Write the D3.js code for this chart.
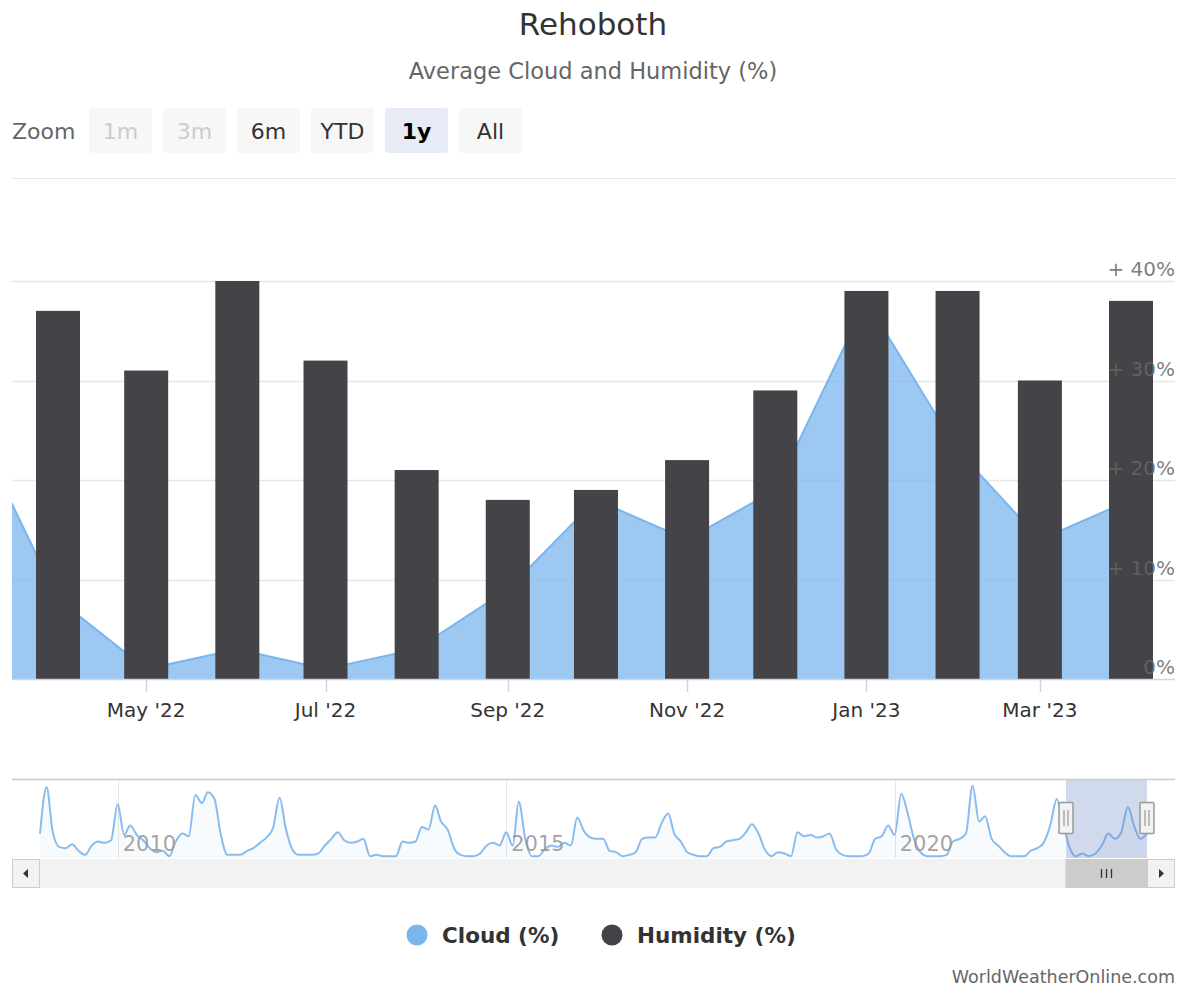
<!DOCTYPE html>
<html>
<head>
<meta charset="utf-8">
<script src="https://cdn.jsdelivr.net/npm/d3@7"></script>
<style>
  body { margin: 0; background: #fff; font-family: "DejaVu Sans", sans-serif; }
</style>
</head>
<body>
<svg id="chart" width="1184" height="987"></svg>
<script>
// ---- data ----
const title = 'Rehoboth';
const subtitle = 'Average Cloud and Humidity (%)';

// monthly cloud cover, Jan 2009 .. Apr 2023
const cloudStart = new Date(Date.UTC(2009, 0, 1));
const cloud = [
  18, 53, 20, 8, 7, 10, 5, 2, 9, 12, 11, 13,        // 2009
  40, 17, 24, 17, 13, 7, 4, 5, 1, 12, 18, 16,       // 2010
  47, 41, 49, 44, 17, 2, 2, 2, 5, 7, 11, 15,        // 2011
  22, 45, 22, 6, 2, 2, 2, 3, 9, 14, 19, 13,         // 2012
  11, 12, 14, 1, 2, 1, 1, 1, 12, 11, 12, 23,        // 2013
  21, 39, 27, 21, 7, 2, 1, 1, 3, 9, 11, 9,          // 2014
  19, 9, 42, 14, 1, 1, 6, 9, 8, 11, 9, 30,          // 2015
  20, 15, 14, 14, 5, 4, 1, 2, 4, 14, 15, 15,        // 2016
  26, 33, 18, 12, 4, 2, 1, 1, 7, 8, 12, 13,         // 2017
  14, 19, 25, 18, 6, 1, 4, 3, 1, 19, 16, 17,        // 2018
  15, 16, 18, 6, 2, 1, 1, 1, 3, 14, 16, 24,         // 2019
  17, 48, 34, 14, 4, 1, 1, 1, 2, 12, 14, 18,        // 2020
  54, 27, 31, 14, 9, 4, 1, 1, 1, 5, 7, 11,          // 2021
  24, 44, 27, 8, 1, 3, 1, 3, 9, 18, 14, 19,         // 2022
  38, 23, 14, 18                                    // 2023
];

// humidity columns, Apr 2022 .. Apr 2023
const humidityStart = new Date(Date.UTC(2022, 3, 1));
const humidity = [37, 31, 40, 32, 21, 18, 19, 22, 29, 39, 39, 30, 38];

const yTicks = [0, 10, 20, 30, 40];
const yTickLabels = ['0%', '+ 10%', '+ 20%', '+ 30%', '+ 40%'];
const navYears = [2010, 2015, 2020];
const zoomButtons = ['1m', '3m', '6m', 'YTD', '1y', 'All'];
const disabledButtons = ['1m', '3m'];
const selectedButton = '1y';
const seriesNames = ['Cloud (%)', 'Humidity (%)'];
const credits = 'WorldWeatherOnline.com';

const cloudColor = '#7cb5ec', humColor = '#434348';

const cloudData = cloud.map((v, i) => ({date: d3.utcMonth.offset(cloudStart, i), v: v}));
const humData = humidity.map((v, i) => ({date: d3.utcMonth.offset(humidityStart, i), v: v}));

const svg = d3.select('#chart');

// ---- titles ----
svg.append('text')
    .attr('x', 593).attr('y', 35)
    .attr('text-anchor', 'middle')
    .style('font-size', '31px').attr('fill', '#333')
    .text(title);
svg.append('text')
    .attr('x', 593).attr('y', 79)
    .attr('text-anchor', 'middle')
    .style('font-size', '22.5px').attr('fill', '#666')
    .text(subtitle);

// ---- range selector ----
svg.append('text')
    .attr('x', 12).attr('y', 139)
    .style('font-size', '22px').attr('fill', '#666')
    .text('Zoom');

const btn = svg.selectAll('g.btn')
    .data(zoomButtons)
    .enter()
  .append('g')
    .attr('class', 'btn')
    .attr('transform', (d, i) => 'translate(' + (89 + i * 74) + ',108)');
btn.append('rect')
    .attr('width', 63).attr('height', 45).attr('rx', 3)
    .attr('fill', d => d === selectedButton ? '#e6ebf5' : '#f7f7f7');
btn.append('text')
    .attr('x', 31.5).attr('y', 31)
    .attr('text-anchor', 'middle')
    .style('font-size', '22px')
    .style('font-weight', d => d === selectedButton ? 'bold' : 'normal')
    .attr('fill', d => disabledButtons.includes(d) ? '#cccccc' : (d === selectedButton ? '#000' : '#333'))
    .text(d => d);

svg.append('path')
    .attr('d', 'M12,178.5H1175')
    .attr('stroke', '#e6e6e6').attr('stroke-width', 1);

// ---- main plot ----
const plot = {left: 12, right: 1175, top: 281, bottom: 679};

const x = d3.scaleUtc()
    .domain([humData[0].date, humData[humData.length - 1].date])
    .range([58, 1131]);
const y = d3.scaleLinear()
    .domain([0, 40])
    .range([plot.bottom, plot.top]);

svg.append('clipPath').attr('id', 'plot-clip')
  .append('rect')
    .attr('x', plot.left).attr('y', plot.top - 20)
    .attr('width', plot.right - plot.left).attr('height', plot.bottom - plot.top + 20);

// grid lines
svg.append('g').selectAll('path')
    .data(yTicks.filter(d => d > 0))
    .enter()
  .append('path')
    .attr('d', d => `M${plot.left},${Math.round(y(d)) + 0.5}H${plot.right}`)
    .attr('stroke', '#e6e6e6').attr('stroke-width', 1.5);

// cloud area
const area = d3.area()
    .x(d => x(d.date))
    .y0(y(0))
    .y1(d => y(d.v));
const line = d3.line()
    .x(d => x(d.date))
    .y(d => y(d.v));

const clipped = svg.append('g').attr('clip-path', 'url(#plot-clip)');
clipped.append('path')
    .datum(cloudData)
    .attr('d', area)
    .attr('fill', cloudColor).attr('fill-opacity', 0.75);
clipped.append('path')
    .datum(cloudData)
    .attr('d', line)
    .attr('fill', 'none')
    .attr('stroke', cloudColor).attr('stroke-width', 2);

// humidity columns
const barW = 44;
svg.append('g').selectAll('rect')
    .data(humData)
    .enter()
  .append('rect')
    .attr('x', d => x(d.date) - barW / 2)
    .attr('y', d => y(d.v))
    .attr('width', barW)
    .attr('height', d => y(0) - y(d.v))
    .attr('fill', humColor);

// x axis
svg.append('path')
    .attr('d', `M${plot.left},${plot.bottom + 0.5}H${plot.right}`)
    .attr('stroke', '#ccd6eb').attr('stroke-width', 1.5);

const xTicks = x.ticks(d3.utcMonth.every(2))
    .filter(d => x(d) >= plot.left && x(d) <= plot.right);
const xAxis = svg.append('g');
xAxis.selectAll('path')
    .data(xTicks)
    .enter()
  .append('path')
    .attr('d', d => `M${Math.round(x(d)) + 0.5},${plot.bottom}V${plot.bottom + 13}`)
    .attr('stroke', '#ccd6eb').attr('stroke-width', 1.5);
xAxis.selectAll('text')
    .data(xTicks)
    .enter()
  .append('text')
    .attr('x', d => x(d))
    .attr('y', 717)
    .attr('text-anchor', 'middle')
    .style('font-size', '20px').attr('fill', '#333')
    .text(d => d3.utcFormat("%b '%y")(d));

// y labels (inside the plot, right side)
svg.append('g').selectAll('text')
    .data(yTicks)
    .enter()
  .append('text')
    .attr('x', plot.right)
    .attr('y', d => y(d) - 5)
    .attr('text-anchor', 'end')
    .style('font-size', '20px').attr('fill', '#666').attr('fill-opacity', 0.85)
    .text((d, i) => yTickLabels[i]);

// ---- navigator ----
const nav = {left: 40, right: 1147, top: 779, bottom: 858};
const navX = d3.scaleUtc()
    .domain(d3.extent(cloudData, d => d.date))
    .range([nav.left, nav.right]);
const navY = d3.scaleLinear()
    .domain([0, 59])
    .range([nav.bottom - 0.5, nav.top]);

// year grid lines
const navG = svg.append('g');
navG.selectAll('path.grid')
    .data(navYears)
    .enter()
  .append('path')
    .attr('class', 'grid')
    .attr('d', d => `M${Math.round(navX(new Date(Date.UTC(d, 0, 1)))) + 0.5},${nav.top}V${nav.bottom}`)
    .attr('stroke', '#e6e6e6').attr('stroke-width', 1);

navG.append('path')
    .datum(cloudData)
    .attr('d', d3.area().curve(d3.curveMonotoneX)
        .x(d => navX(d.date)).y0(nav.bottom).y1(d => navY(d.v)))
    .attr('fill', cloudColor).attr('fill-opacity', 0.05);
navG.append('path')
    .datum(cloudData)
    .attr('d', d3.line().curve(d3.curveMonotoneX)
        .x(d => navX(d.date)).y(d => navY(d.v)))
    .attr('fill', 'none')
    .attr('stroke', cloudColor).attr('stroke-width', 2).attr('stroke-opacity', 0.9);

navG.selectAll('text')
    .data(navYears)
    .enter()
  .append('text')
    .attr('x', d => navX(new Date(Date.UTC(d, 0, 1))) + 5)
    .attr('y', nav.bottom - 7)
    .style('font-size', '21px').attr('fill', '#999').attr('fill-opacity', 0.9)
    .text(d => d);

// selected range
const selLeft = navX(x.invert(plot.left));
const selRight = Math.min(nav.right, navX(x.invert(plot.right)));
navG.append('rect')
    .attr('x', selLeft).attr('y', nav.top)
    .attr('width', selRight - selLeft).attr('height', nav.bottom - nav.top)
    .attr('fill', 'rgba(102,133,194,0.3)');

navG.append('path')
    .attr('d', `M${plot.left},${nav.top + 0.5}H${plot.right}`)
    .attr('stroke', '#cccccc').attr('stroke-width', 1.5);

// handles
const handles = navG.selectAll('g.handle')
    .data([selLeft, selRight])
    .enter()
  .append('g')
    .attr('transform', d => 'translate(' + Math.round(d) + ',' + 818 + ')');
handles.append('rect')
    .attr('x', -7).attr('y', -15.5).attr('width', 14).attr('height', 31).attr('rx', 1)
    .attr('fill', '#f2f2f2').attr('stroke', '#999').attr('stroke-width', 1.5);
handles.append('path')
    .attr('d', 'M-2,-8V8M2,-8V8')
    .attr('stroke', '#999').attr('stroke-width', 1.2);

// ---- scrollbar ----
const sb = {top: 859, h: 29};
svg.append('rect')
    .attr('x', plot.left).attr('y', sb.top)
    .attr('width', plot.right - plot.left).attr('height', sb.h)
    .attr('fill', '#f2f2f2');
svg.append('rect')
    .attr('x', selLeft).attr('y', sb.top + 0.5)
    .attr('width', selRight - selLeft).attr('height', sb.h - 1)
    .attr('fill', '#cccccc').attr('stroke', '#cccccc');
const rc = (selLeft + selRight) / 2;
svg.append('path')
    .attr('d', `M${rc - 5},${sb.top + 10}V${sb.top + 19}M${rc},${sb.top + 10}V${sb.top + 19}M${rc + 5},${sb.top + 10}V${sb.top + 19}`)
    .attr('stroke', '#333').attr('stroke-width', 1.3);

const buttons = [
  {x: plot.left, dir: -1},
  {x: plot.right - 28, dir: 1}
];
const sbBtn = svg.selectAll('g.sbbtn')
    .data(buttons)
    .enter()
  .append('g')
    .attr('transform', d => 'translate(' + d.x + ',' + sb.top + ')');
sbBtn.append('rect')
    .attr('x', 0.5).attr('y', 0.5).attr('width', 27).attr('height', sb.h - 1)
    .attr('fill', '#f2f2f2').attr('stroke', '#cccccc');
sbBtn.append('path')
    .attr('d', d => d.dir < 0 ? 'M11,14.5L16,10V19Z' : 'M17,14.5L12,10V19Z')
    .attr('fill', '#333');

// ---- legend ----
const legend = svg.selectAll('g.legend')
    .data(seriesNames)
    .enter()
  .append('g')
    .attr('transform', (d, i) => 'translate(' + [417, 612][i] + ',935)');
legend.append('circle')
    .attr('r', 10.5)
    .attr('fill', (d, i) => i === 0 ? cloudColor : humColor);
legend.append('text')
    .attr('x', 25).attr('y', 8)
    .style('font-size', '21.5px').style('font-weight', 'bold').attr('fill', '#333')
    .text(d => d);

// ---- credits ----
svg.append('text')
    .attr('x', 1175).attr('y', 983)
    .attr('text-anchor', 'end')
    .style('font-size', '17.5px').attr('fill', '#666')
    .text(credits);
</script>
</body>
</html>
